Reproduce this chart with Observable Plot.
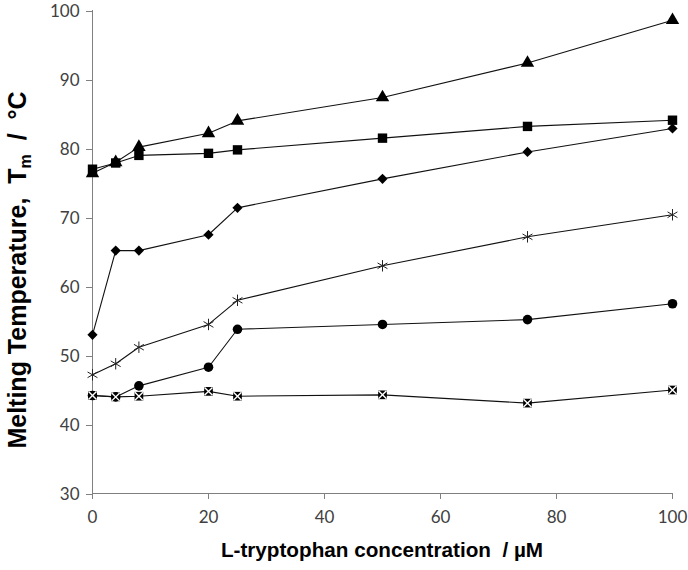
<!DOCTYPE html>
<html><head><meta charset="utf-8">
<script src="https://cdn.jsdelivr.net/npm/d3@7"></script>
<script src="https://cdn.jsdelivr.net/npm/@observablehq/plot@0.6"></script>
<style>body{margin:0;background:#fff}</style>
</head><body><div id="chart"></div>
<script>
const conc = [0, 4, 8, 20, 25, 50, 75, 100];
const xTicks = [0, 20, 40, 60, 80, 100];
const yTicks = [30, 40, 50, 60, 70, 80, 90, 100];
const triangleTm = [76.4, 78.0, 80.2, 82.2, 84.0, 87.4, 92.4, 98.6];
const squareTm   = [77.0, 77.9, 79.0, 79.3, 79.8, 81.5, 83.2, 84.1];
const diamondTm  = [53.0, 65.2, 65.2, 67.5, 71.4, 75.6, 79.5, 82.9];
const asteriskTm = [47.2, 48.8, 51.2, 54.5, 58.0, 63.0, 67.2, 70.4];
const circleTm   = [44.2, 44.0, 45.6, 48.3, 53.8, 54.5, 55.2, 57.5];
const boxXTm     = [44.2, 44.0, 44.1, 44.8, 44.1, 44.3, 43.1, 45.0];

const series = [
  {name: "triangle", values: triangleTm},
  {name: "diamond", values: diamondTm},
  {name: "asterisk", values: asteriskTm},
  {name: "circle", values: circleTm},
  {name: "boxX", values: boxXTm},
  {name: "square", values: squareTm}
];
const rows = series.flatMap(s => conc.map((c, i) => ({series: s.name, x: c, y: s.values[i]})));
const of = n => rows.filter(d => d.series === n);

const tickFont = "Lato, 'Open Sans', sans-serif";
const plot = Plot.plot({
  width: 688,
  height: 570,
  marginLeft: 92,
  marginRight: 16,
  marginTop: 10,
  marginBottom: 77,
  style: {fontFamily: tickFont, fontSize: "17px", color: "#404040", background: "#fff"},
  x: {domain: [0, 100]},
  y: {domain: [30, 100]},
  marks: [
    Plot.ruleY([30], {stroke: "#808080", strokeWidth: 1}),
    Plot.ruleX([0], {stroke: "#808080", strokeWidth: 1}),
    Plot.axisX({ticks: xTicks, tickSize: 6, tickPadding: 11, stroke: "#808080", label: null, fill: "#404040"}),
    Plot.axisY({ticks: yTicks, tickSize: 6, tickPadding: 7, stroke: "#808080", label: null, fill: "#404040", dy: 1}),
    Plot.line(rows, {x: "x", y: "y", z: "series", stroke: "#111", strokeWidth: 1.1}),
    Plot.dot(of("triangle"), {x: "x", y: "y", symbol: "triangle", r: 5, fill: "#000"}),
    Plot.dot(of("diamond"), {x: "x", y: "y", symbol: "diamond2", r: 4.6, fill: "#000"}),
    Plot.dot(of("asterisk"), {x: "x", y: "y", symbol: "asterisk", r: 5.4, stroke: "#222", strokeWidth: 1, fill: "none"}),
    Plot.dot(of("circle"), {x: "x", y: "y", symbol: "circle", r: 4.8, fill: "#000"}),
    Plot.dot(of("boxX"), {x: "x", y: "y", symbol: "square", r: 4.9, fill: "#000"}),
    Plot.dot(of("boxX"), {x: "x", y: "y", symbol: "times", r: 3.7, stroke: "#fff", strokeWidth: 1.4, fill: "none"}),
    Plot.dot(of("square"), {x: "x", y: "y", symbol: "square", r: 5.3, fill: "#000"})
  ]
});
document.getElementById("chart").appendChild(plot);

const svg = d3.select(plot);
const titleFont = "'Liberation Sans', Arial, sans-serif";
svg.append("text")
  .attr("x", 382).attr("y", 557)
  .attr("text-anchor", "middle")
  .attr("font-family", titleFont).attr("font-weight", "bold").attr("font-size", 20.7)
  .attr("fill", "#000")
  .attr("xml:space", "preserve")
  .text("L-tryptophan concentration  / µM");
const yt = svg.append("text")
  .attr("transform", "translate(26,270) rotate(-90)")
  .attr("text-anchor", "middle")
  .attr("font-family", titleFont).attr("font-weight", "bold").attr("font-size", 25)
  .attr("fill", "#000")
  .attr("xml:space", "preserve");
yt.append("tspan").text("Melting Temperature,  T");
yt.append("tspan").attr("font-size", 16).attr("dy", 5).text("m");
yt.append("tspan").attr("dy", -5).text("  /  °C");
</script>
</body></html>
